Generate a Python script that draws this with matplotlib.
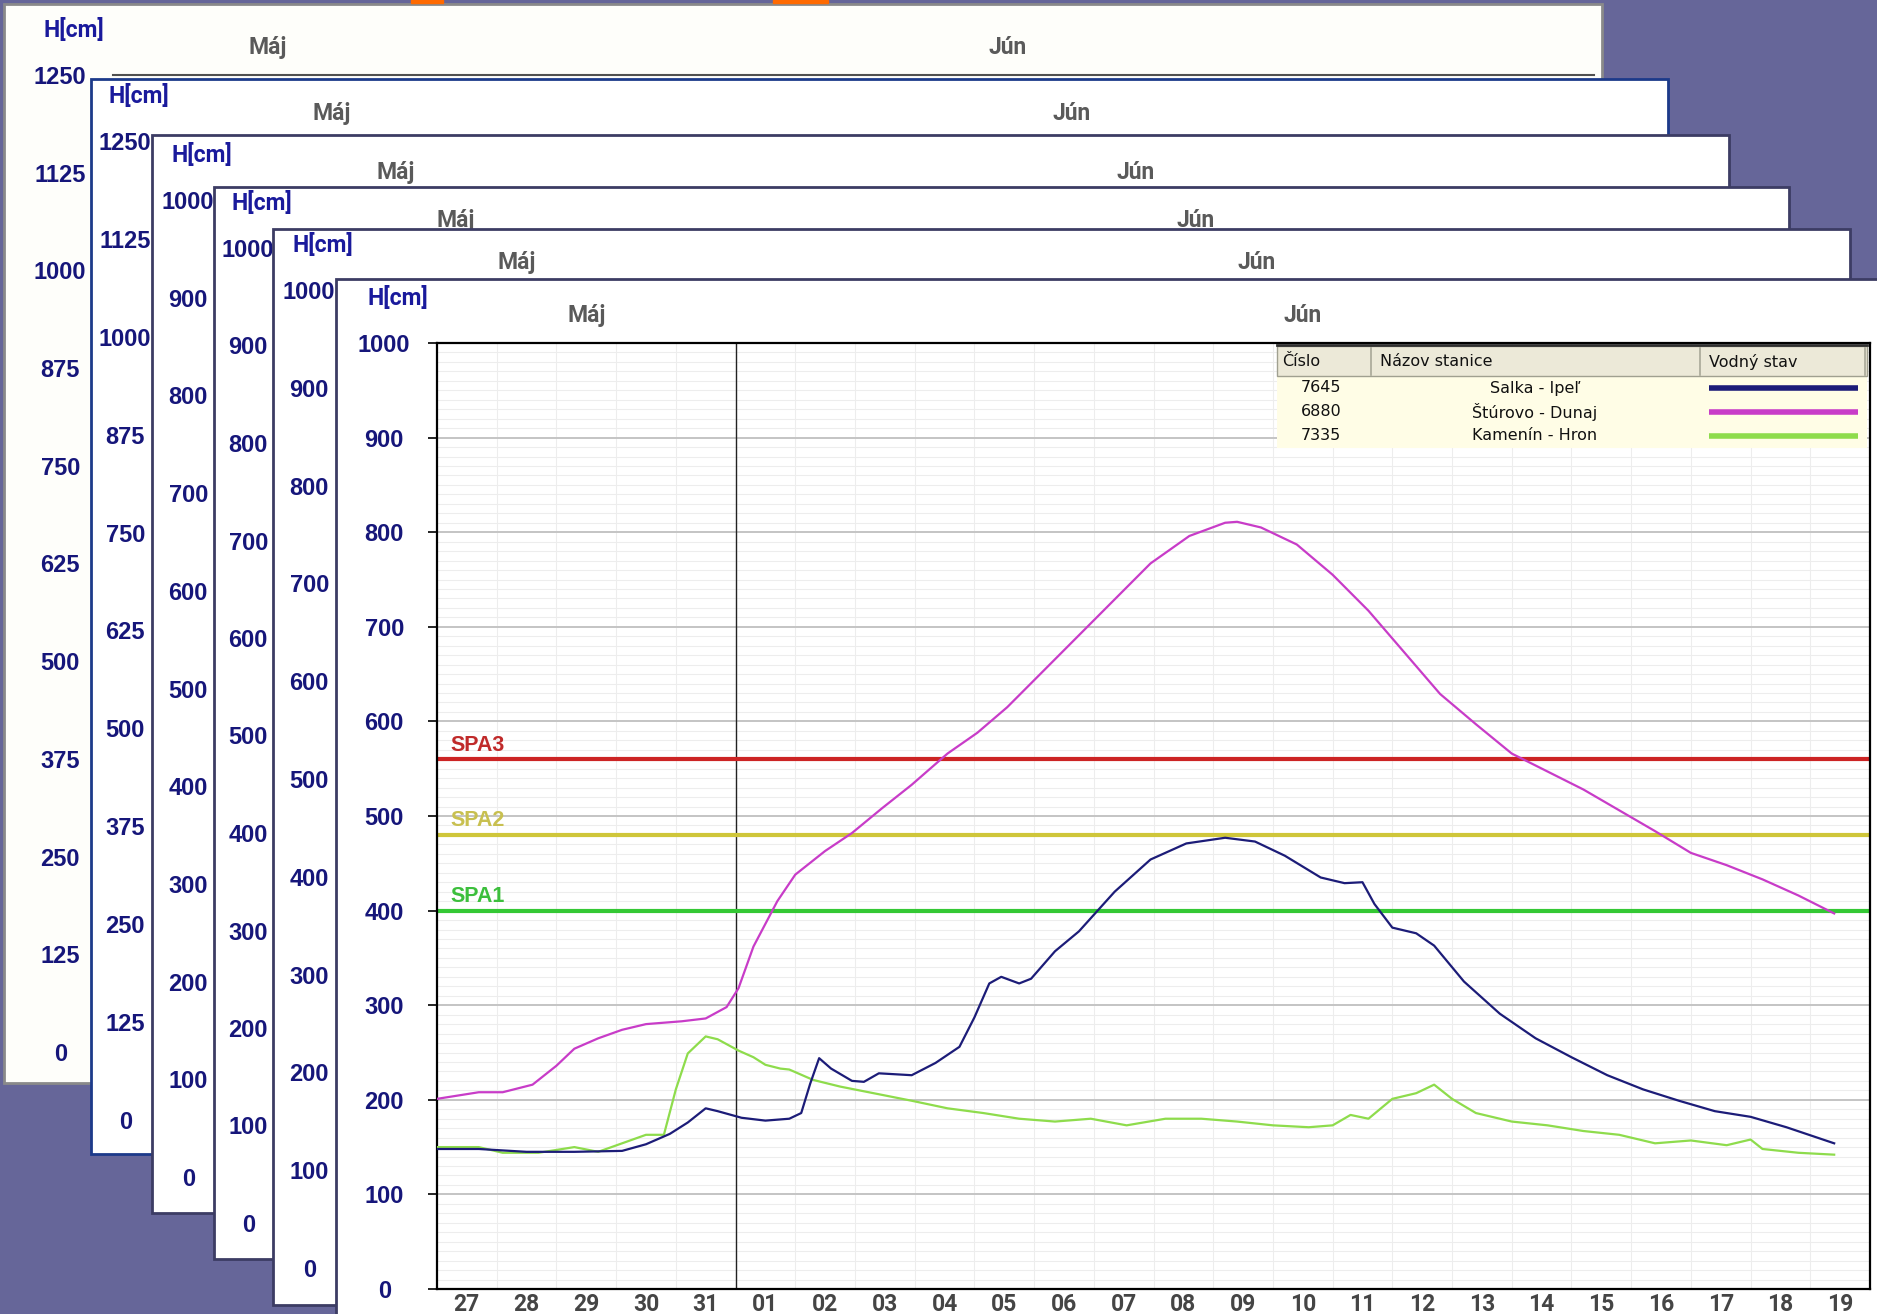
import matplotlib.pyplot as plt
import numpy as np
from matplotlib.patches import Rectangle

W, H = 1877, 1314  # velkost obrazku v px (dpi=100)

# dni na osi x: 27.5. - 19.6.
days = ['27', '28', '29', '30', '31', '01', '02', '03', '04', '05', '06', '07',
        '08', '09', '10', '11', '12', '13', '14', '15', '16', '17', '18', '19']
months = ['Máj', 'Jún']
month_mid = [2.5, 14.5]
jun_start = 5

# popisy osi y na zadnych oknach
p1_ticks = [0, 125, 250, 375, 500, 625, 750, 875, 1000, 1125, 1250]
p2_ticks = [0, 125, 250, 375, 500, 625, 750, 875, 1000, 1125, 1250]
p3_ticks = [0, 100, 200, 300, 400, 500, 600, 700, 800, 900, 1000]
p4_ticks = [0, 100, 200, 300, 400, 500, 600, 700, 800, 900, 1000]
p5_ticks = [0, 100, 200, 300, 400, 500, 600, 700, 800, 900, 1000]
main_ticks = [0, 100, 200, 300, 400, 500, 600, 700, 800, 900, 1000]

# stupne povodnovej aktivity
spa_names = ['SPA1', 'SPA2', 'SPA3']
spa_levels = [400, 480, 560]

# stanice
station_ids = ['7645', '6880', '7335']
station_names = ['Salka - Ipeľ', 'Štúrovo - Dunaj', 'Kamenín - Hron']

# vodne stavy [cm], cas v dnoch od 27.5. 00:00
salka_t = [0, 0.7, 1.5, 2.3, 3.1, 3.5, 3.9, 4.2, 4.5, 4.7, 5.1, 5.5, 5.9, 6.1, 6.25,
           6.4, 6.6, 6.95, 7.15, 7.4, 7.95, 8.35, 8.75, 9.0, 9.25, 9.45, 9.75, 9.95,
           10.35, 10.75, 11.35, 11.95, 12.55, 13.2, 13.7, 14.2, 14.8, 15.2, 15.5,
           15.7, 16.0, 16.4, 16.7, 17.2, 17.8, 18.4, 19.0, 19.6, 20.2, 20.8, 21.4,
           22.0, 22.6, 23.4]
salka_h = [148, 148, 145, 145, 146, 153, 164, 176, 191, 188, 181, 178, 180, 186, 217,
           244, 233, 220, 219, 228, 226, 239, 256, 287, 323, 330, 323, 328,
           357, 378, 420, 454, 471, 477, 473, 458, 435, 429, 430,
           407, 382, 376, 363, 325, 291, 265, 245, 226, 211, 199, 188,
           182, 171, 154]

sturovo_t = [0.0, 0.4, 0.7, 1.1, 1.6, 2.0, 2.3, 2.7, 3.1, 3.5, 4.1, 4.5, 4.85, 5.05,
             5.3, 5.7, 6.0, 6.5, 6.95, 7.45, 7.95, 8.55, 9.05, 9.55, 10.15, 10.75,
             11.35, 11.95, 12.6, 13.2, 13.4, 13.8, 14.4, 15.0, 15.6, 16.2, 16.8,
             17.4, 18.0, 18.6, 19.2, 19.8, 20.4, 21.0, 21.6, 22.2, 22.8, 23.4]
sturovo_h = [201, 205, 208, 208, 216, 236, 254, 265, 274, 280, 283, 286, 298, 318,
             362, 410, 438, 463, 482, 508, 533, 566, 588, 615, 653, 691,
             729, 767, 796, 810, 811, 805, 787, 755, 717, 673, 629,
             597, 566, 547, 528, 506, 484, 461, 448, 433, 416, 397]

kamenin_t = [0, 0.7, 1.1, 1.7, 2.3, 2.7, 3.1, 3.5, 3.8, 4.0, 4.2, 4.5, 4.7, 5.05, 5.3,
             5.5, 5.75, 5.9, 6.3, 6.75, 7.15, 7.55, 7.95, 8.55, 9.15, 9.75, 10.35,
             10.95, 11.55, 12.2, 12.8, 13.4, 14.0, 14.6, 15.0, 15.3, 15.6, 16.0,
             16.4, 16.7, 17.0, 17.4, 18.0, 18.6, 19.2, 19.8, 20.4, 21.0, 21.6,
             22.0, 22.2, 22.8, 23.4]
kamenin_h = [150, 150, 144, 144, 150, 145, 154, 163, 163, 211, 249, 267, 264, 252, 245,
             237, 233, 232, 221, 214, 209, 204, 199, 191, 186, 180, 177,
             180, 173, 180, 180, 177, 173, 171, 173, 184, 180, 201,
             207, 216, 201, 186, 177, 173, 167, 163, 154, 157, 152,
             158, 148, 144, 142]

navy = '#16167a'
c_salka = '#1c1c78'
c_sturovo = '#c83cc8'
c_kamenin = '#8edc4c'
spa_colors = ['#34c834', '#cfc63a', '#cc2424']
spa_text = ['#3cbf3c', '#c8c050', '#c02a2a']

NARROW = ['Roboto', 'DejaVu Sans']
BOLD = ['Liberation Sans', 'DejaVu Sans']


def fx(x):
    return x / W


def fy(y):
    return 1 - y / H


def rect_px(ax, x0, y0, x1, y1, **kw):
    r = Rectangle((fx(x0), fy(y1)), fx(x1 - x0), (y1 - y0) / H,
                  transform=ax.figure.transFigure, clip_on=False, **kw)
    ax.add_patch(r)
    return r


fig = plt.figure(figsize=(W / 100, H / 100), dpi=100, facecolor='#666699')

# oranzove zvysky nadpisu hore
fig.patches.append(Rectangle((fx(411), fy(3)), fx(32), 3 / H, transform=fig.transFigure,
                             color='#ff6a00'))
fig.patches.append(Rectangle((fx(773), fy(3)), fx(55), 3 / H, transform=fig.transFigure,
                             color='#ff6a00'))

# zadne okna: (okno x0, y0, x1, y1), (lavy okraj grafu, px na den, y nuly, y maxima), max, ticky
panels = [
    ((4, 4, 1602, 1083), (113, 61.7, 1052, 75), 1250, p1_ticks, '#8a8a8a', '#fefefa'),
    ((91, 79, 1668, 1154), (178, 61.6, 1120, 141), 1250, p2_ticks, '#1c3a8a', 'white'),
    ((152, 135, 1729, 1213), (241, 61.7, 1177, 200), 1000, p3_ticks, '#3c3c64', 'white'),
    ((214, 187, 1789, 1259), (301, 61.7, 1223, 248), 1000, p4_ticks, '#3c3c64', 'white'),
    ((273, 229, 1850, 1305), (362, 61.7, 1268, 290), 1000, p5_ticks, '#3c3c64', 'white'),
]

ylab_font = dict(fontsize=17, fontweight='bold', color=navy, family=BOLD)


def decorate(ax):
    ax.annotate('H[cm]', xy=(0, 1), xycoords='axes fraction', xytext=(-28, 32.5),
                textcoords='offset points', ha='center', va='center',
                fontsize=16.5, fontweight='bold', color='#1a1a9c', family=NARROW)
    for m, xm in zip(months, month_mid):
        ax.annotate(m, xy=(xm, 1), xycoords=ax.get_xaxis_transform(), xytext=(0, 20),
                    textcoords='offset points', ha='center', va='center',
                    fontsize=16.5, fontweight='bold', color='#5a5a5a', family=NARROW)


for i, (box, geo, ymax, ticks, ec, fc) in enumerate(panels):
    left, dw, y0, ytop = geo
    ax = fig.add_axes([fx(left), fy(y0), 24 * dw / W, (y0 - ytop) / H], zorder=i)
    ax.set_facecolor('none')
    rect_px(ax, *box, facecolor=fc, edgecolor=ec, lw=2, zorder=0)
    ax.set_xlim(0, 24)
    ax.set_ylim(0, ymax)
    ax.set_xticks([])
    ax.set_yticks(ticks)
    ax.set_yticklabels([str(t) for t in ticks], **ylab_font)
    for t in ax.get_yticklabels():
        t.set_ha('center')
    ax.tick_params(axis='y', length=0, pad=38)
    for s in ax.spines.values():
        s.set_visible(False)
    if i == 0:
        ax.spines['top'].set_visible(True)
        ax.spines['top'].set_color('#505050')
        ax.spines['top'].set_linewidth(1.5)
    decorate(ax)

# hlavny graf
ax = fig.add_axes([fx(437), fy(1289), 1433 / W, 946 / H], zorder=10)
ax.set_facecolor('white')
rect_px(ax, 336, 279, 1885, 1320, facecolor='white', edgecolor='#3c3c64', lw=2, zorder=-1)
ax.set_xlim(0, 24)
ax.set_ylim(0, 1000)

ax.set_yticks(main_ticks)
ax.set_yticklabels([str(t) for t in main_ticks], **ylab_font)
for t in ax.get_yticklabels():
    t.set_ha('center')
ax.set_yticks(np.arange(0, 1001, 10), minor=True)
ax.tick_params(axis='y', which='major', length=6.5, width=1.2, pad=31.5, direction='out')
ax.tick_params(axis='y', which='minor', length=0)

ax.set_xticks(np.arange(len(days)) + 0.5)
ax.set_xticklabels(days, fontsize=16.5, fontweight='bold', color='#454545', family=NARROW)
ax.set_xticks(np.arange(1, len(days)), minor=True)
ax.tick_params(axis='x', which='both', length=0, pad=3)

ax.grid(which='minor', axis='both', color='#ededed', lw=0.8)
ax.grid(which='major', axis='y', color='#c4c4c4', lw=1.4)
ax.grid(which='major', axis='x', visible=False)
ax.set_axisbelow(True)
for s in ax.spines.values():
    s.set_color('black')
    s.set_linewidth(1.6)

ax.axvline(jun_start, color='#222222', lw=1.0, zorder=1.6)

for name, lev, col, tcol in zip(spa_names, spa_levels, spa_colors, spa_text):
    ax.axhline(lev, color=col, lw=3, zorder=2)
    ax.annotate(name, xy=(0.22, lev), xytext=(0, 2.5), textcoords='offset points',
                ha='left', va='bottom', fontsize=15.5, fontweight='bold', color=tcol,
                family=BOLD, zorder=4)

ax.plot(kamenin_t, kamenin_h, color=c_kamenin, lw=1.6, zorder=3)
ax.plot(salka_t, salka_h, color=c_salka, lw=1.6, zorder=3)
ax.plot(sturovo_t, sturovo_h, color=c_sturovo, lw=1.6, zorder=3)

decorate(ax)

# legenda (tabulka)
rect_px(ax, 1277, 376, 1867, 448, facecolor='#fffde6', edgecolor='none', zorder=5)
rect_px(ax, 1277, 346, 1867, 376, facecolor='#ece9d8', edgecolor='#a0a090', lw=1, zorder=5)
ax.plot([fx(1277), fx(1867)], [fy(345), fy(345)], transform=fig.transFigure, clip_on=False,
        color='#303030', lw=2, zorder=6)
for xd in [1371, 1700, 1865]:
    ax.plot([fx(xd), fx(xd)], [fy(348), fy(375)], transform=fig.transFigure, clip_on=False,
            color='#a8a898', lw=1.2, zorder=6)
leg_font = dict(fontsize=11.5, color='#111111', family=['DejaVu Sans'], zorder=7,
                transform=fig.transFigure, va='center')
ax.text(fx(1282), fy(362), 'Číslo', ha='left', **leg_font)
ax.text(fx(1380), fy(362), 'Názov stanice', ha='left', **leg_font)
ax.text(fx(1709), fy(362), 'Vodný stav', ha='left', **leg_font)
for k, (sid, sname, col) in enumerate(zip(station_ids, station_names,
                                         [c_salka, c_sturovo, c_kamenin])):
    yrow = 388 + 24 * k
    ax.text(fx(1321), fy(yrow), sid, ha='center', **leg_font)
    ax.text(fx(1535), fy(yrow), sname, ha='center', **leg_font)
    ax.plot([fx(1709), fx(1858)], [fy(yrow), fy(yrow)], transform=fig.transFigure,
            clip_on=False, color=col, lw=4, solid_capstyle='butt', zorder=7)

fig.savefig('out.png', dpi=100, facecolor=fig.get_facecolor())
